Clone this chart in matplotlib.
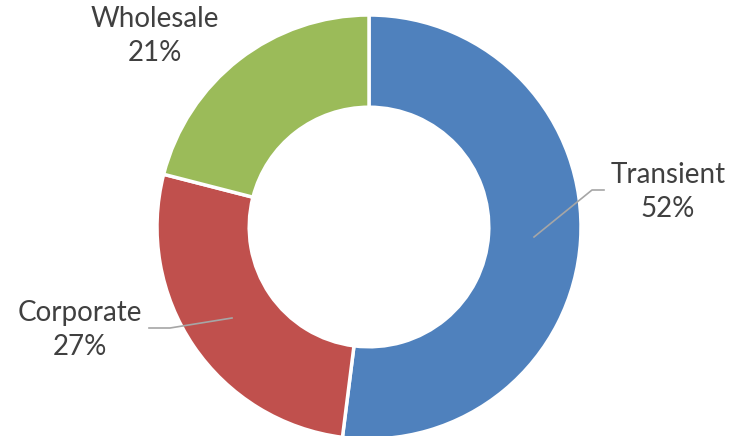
import matplotlib.pyplot as plt

categories = ["Transient", "Corporate", "Wholesale"]
values = [52, 27, 21]
colors = ["#4F81BD", "#C0504D", "#9BBB59"]

W, H = 742, 436
fig = plt.figure(figsize=(W/100, H/100), dpi=100)
ax = fig.add_axes([0, 0, 1, 1])

cx, cy, R = 369, H - 227, 212
ax.pie(values, colors=colors, startangle=90, counterclock=False,
       center=(cx, cy), radius=R, frame=True,
       wedgeprops=dict(width=R*0.435, edgecolor="white", linewidth=2.5))
ax.set_xlim(0, W)
ax.set_ylim(0, H)
ax.axis("off")

txt = dict(ha="center", va="center", fontsize=20, color="#404040",
           family=["Lato", "DejaVu Sans"], linespacing=1.38)
labels = [f"{c}\n{v}%" for c, v in zip(categories, values)]
pos = [(668, 192), (80, 330), (155, 36)]
for lab, (x, y) in zip(labels, pos):
    ax.text(x, H - y, lab, **txt)

lc = "#A6A6A6"
ax.plot([534, 592, 604], [H-237, H-190, H-190], color=lc, lw=1.2)
ax.plot([232, 170, 149], [H-318, H-328, H-328], color=lc, lw=1.2)

fig.savefig("out.png", dpi=100)
